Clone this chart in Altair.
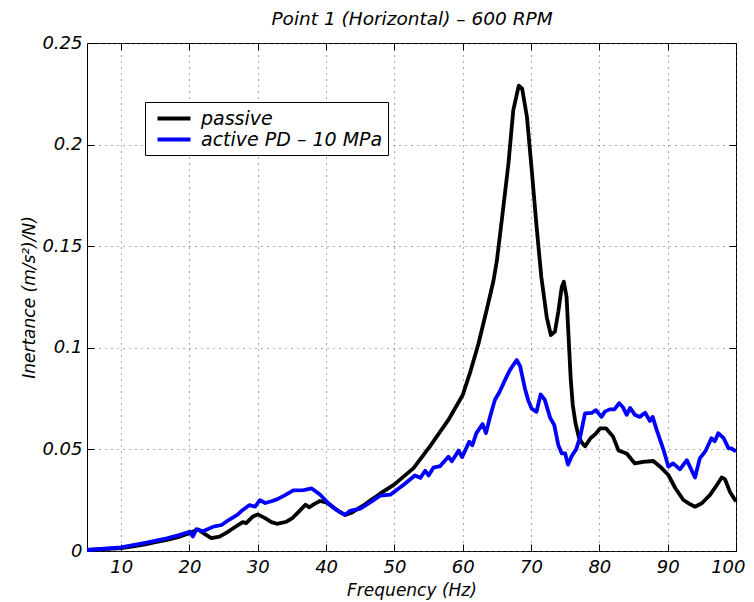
import altair as alt
import pandas as pd

# ---------------- data ----------------
freq_passive = [5, 7.5, 10, 12, 13.7, 15, 16.7, 18.6, 20, 21.3, 22.2, 23.2, 24.4, 25.5, 26.4,
                27.8, 28.3, 29.3, 30.0, 31.0, 32.0, 32.8, 34.2, 35.0, 35.9, 37.0, 37.5, 38.3,
                39.1, 40.1, 41.0, 42.0, 42.8, 43.7, 44.5, 45.4, 46.6, 47.9, 50.0, 52.8, 55.2,
                57.9, 60.0, 61.05, 62.3, 63.5, 64.5, 65.0, 65.9, 66.7, 67.4, 68.2, 68.7, 69.4,
                70.1, 70.8, 71.5, 72.3, 72.9, 73.5, 74.0, 74.5, 74.8, 75.2, 75.5, 75.8, 76.1,
                76.5, 77.0, 77.5, 77.9, 78.7, 79.4, 80.1, 81.0, 82.0, 82.8, 84.0, 85.2, 86.4,
                87.9, 88.9, 90.1, 91.1, 92.3, 93.2, 94.0, 95.0, 96.2, 97.2, 97.9, 98.4, 99.1, 100]
val_passive = [0.0005, 0.0009, 0.0014, 0.0024, 0.0034, 0.0043, 0.0055, 0.0071, 0.0088, 0.0106,
               0.0084, 0.0063, 0.0071, 0.0092, 0.0112, 0.0142, 0.0137, 0.0170, 0.0180, 0.0163,
               0.0142, 0.0134, 0.0144, 0.0160, 0.0190, 0.0228, 0.0215, 0.0232, 0.0246, 0.0238,
               0.0216, 0.0192, 0.0177, 0.0188, 0.0205, 0.0223, 0.0252, 0.0282, 0.0328, 0.0408,
               0.0515, 0.0645, 0.0768, 0.0875, 0.1020, 0.1186, 0.1330, 0.1430, 0.1680, 0.1910,
               0.2170, 0.2290, 0.2275, 0.2136, 0.1874, 0.1600, 0.1350, 0.1150, 0.1063, 0.1080,
               0.1180, 0.1300, 0.1325, 0.1250, 0.1050, 0.0850, 0.0720, 0.0630, 0.0560, 0.0530,
               0.0515, 0.0555, 0.0575, 0.0603, 0.0603, 0.0563, 0.0495, 0.0480, 0.0431, 0.0439,
               0.0443, 0.0415, 0.0374, 0.0310, 0.0251, 0.0232, 0.0218, 0.0235, 0.0276, 0.0325,
               0.0362, 0.0352, 0.0292, 0.0243]

freq_active = [5, 7.5, 10, 13.7, 16.7, 18.5, 20, 20.5, 21.0, 22.0, 23.5, 24.7, 25.9, 27.0, 27.8,
               28.8, 29.6, 30.3, 31.1, 32.0, 32.8, 34.0, 35.2, 36.7, 37.9, 39.1, 40.3, 41.5,
               42.8, 43.5, 45.0, 46.5, 47.9, 49.4, 51.3, 53.0, 53.8, 54.5, 55.0, 55.7, 56.7,
               57.9, 58.4, 59.4, 59.9, 60.96, 61.4, 62.0, 62.9, 63.4, 64.0, 64.7, 65.4, 66.2,
               66.9, 67.9, 68.4, 69.1, 69.6, 70.1, 70.8, 71.4, 72.0, 72.8, 73.4, 74.0, 74.5,
               75.0, 75.4, 76.0, 76.6, 77.2, 77.9, 78.9, 79.5, 80.3, 80.8, 81.5, 82.2, 82.9,
               83.4, 84.0, 84.5, 85.2, 85.9, 86.7, 87.4, 87.8, 88.4, 89.4, 90.1, 90.8, 91.8,
               92.8, 94.0, 94.7, 95.5, 96.4, 96.9, 97.4, 98.2, 98.9, 99.3, 100]
val_active = [0.0005, 0.0011, 0.0018, 0.0041, 0.0062, 0.0078, 0.0095, 0.0072, 0.0107, 0.0097,
              0.0120, 0.0128, 0.0156, 0.0178, 0.0202, 0.0226, 0.0218, 0.0250, 0.0236, 0.0245,
              0.0254, 0.0275, 0.0298, 0.0300, 0.0308, 0.0278, 0.0236, 0.0202, 0.0178, 0.0198,
              0.0208, 0.0240, 0.0272, 0.0277, 0.0325, 0.0372, 0.0360, 0.0395, 0.0372, 0.0410,
              0.0418, 0.0464, 0.0442, 0.0494, 0.0462, 0.0538, 0.0520, 0.0580, 0.0625, 0.0580,
              0.0661, 0.0743, 0.0784, 0.0842, 0.0890, 0.0940, 0.0910, 0.0800, 0.0740, 0.0700,
              0.0685, 0.0770, 0.0745, 0.0655, 0.0620, 0.0520, 0.0480, 0.0480, 0.0425, 0.0470,
              0.0500, 0.0563, 0.0677, 0.0680, 0.0693, 0.0660, 0.0686, 0.0697, 0.0697, 0.0727,
              0.0710, 0.0670, 0.0704, 0.0670, 0.0660, 0.0680, 0.0640, 0.0660, 0.0595, 0.0497,
              0.0415, 0.0431, 0.0402, 0.0447, 0.0362, 0.0456, 0.0490, 0.0555, 0.0540, 0.0580,
              0.0555, 0.0505, 0.0505, 0.0490]

series_names = ["passive", "active PD \u2013 10 MPa"]
series_colors = ["#000000", "#0000ff"]
x_ticks = [10, 20, 30, 40, 50, 60, 70, 80, 90, 100]
y_ticks = [0, 0.05, 0.1, 0.15, 0.2, 0.25]
chart_title = "Point 1 (Horizontal) \u2013 600 RPM"

df = pd.concat([
    pd.DataFrame({"f": freq_passive, "v": val_passive, "series": series_names[0]}),
    pd.DataFrame({"f": freq_active, "v": val_active, "series": series_names[1]}),
], ignore_index=True)

FONT = "DejaVu Sans"
TICK = 7
LW = 3.8

x_scale = alt.Scale(domain=[5, 100], nice=False, zero=False)
y_scale = alt.Scale(domain=[0, 0.25], nice=False, zero=False)

color = alt.Color(
    "series:N",
    scale=alt.Scale(domain=series_names, range=series_colors),
    legend=alt.Legend(
        title=None, orient="none", legendX=58, legendY=59,
        labelFont=FONT, labelFontStyle="italic", labelFontSize=19, labelColor="black",
        symbolType="M-1.918,0H1.918", symbolStrokeWidth=LW, symbolSize=296,
        symbolFillColor="transparent",
        labelOffset=16, padding=5.5, rowPadding=0, symbolOffset=12.5,
        strokeColor="black", fillColor="white", labelLimit=400,
    ),
)

x_main = alt.X("f:Q", scale=x_scale, axis=alt.Axis(
    values=x_ticks, title="Frequency (Hz)", orient="bottom", offset=-TICK,
    labelPadding=7, titlePadding=6, grid=True, format="d",
    labelFlush=2, labelFlushOffset=9))
y_main = alt.Y("v:Q", scale=y_scale, axis=alt.Axis(
    values=y_ticks, title="Inertance (m/s\u00b2)/N)", orient="left", offset=-TICK,
    labelPadding=5, titlePadding=3, grid=True, labelFlush=False,
    labelExpr="'' + round(datum.value * 100) / 100"))

passive = alt.Chart(df).transform_filter(
    alt.datum.series == series_names[0]
).mark_line(strokeWidth=LW, strokeJoin="round").encode(x=x_main, y=y_main, color=color)

active = alt.Chart(df).transform_filter(
    alt.datum.series == series_names[1]
).mark_line(strokeWidth=LW, strokeJoin="round").encode(
    x=alt.X("f:Q", scale=x_scale, axis=None),
    y=alt.Y("v:Q", scale=y_scale, axis=None),
    color=color)

frame = alt.Chart(df).mark_line(strokeOpacity=0).encode(
    x=alt.X("f:Q", scale=x_scale, axis=alt.Axis(
        values=x_ticks, orient="top", labels=False, title=chart_title, offset=-TICK,
        grid=False, titleFontSize=18.5, titleBaseline="alphabetic", titlePadding=18)),
    y=alt.Y("v:Q", scale=y_scale, axis=alt.Axis(
        values=y_ticks, orient="right", labels=False, title=None, offset=-TICK, grid=False)),
    detail="series:N",
)

chart = alt.layer(passive, active, frame).resolve_axis(
    x="independent", y="independent"
).properties(
    width=649, height=508,
    autosize=alt.AutoSizeParams(type="none"),
    padding={"left": 79, "top": 35, "right": 10, "bottom": 52},
).configure_view(
    stroke="black", strokeWidth=1
).configure_axis(
    labelFont=FONT, labelFontStyle="italic", labelFontSize=18, labelColor="black",
    titleFont=FONT, titleFontStyle="italic", titleFontWeight="normal", titleFontSize=17,
    titleColor="black", tickColor="black", tickSize=TICK, tickWidth=1,
    domain=False, gridColor="#555555", gridDash=[1, 5], gridWidth=1, gridOpacity=1,
)

chart.save("out.html", embed_options={"renderer": "svg", "actions": False})
